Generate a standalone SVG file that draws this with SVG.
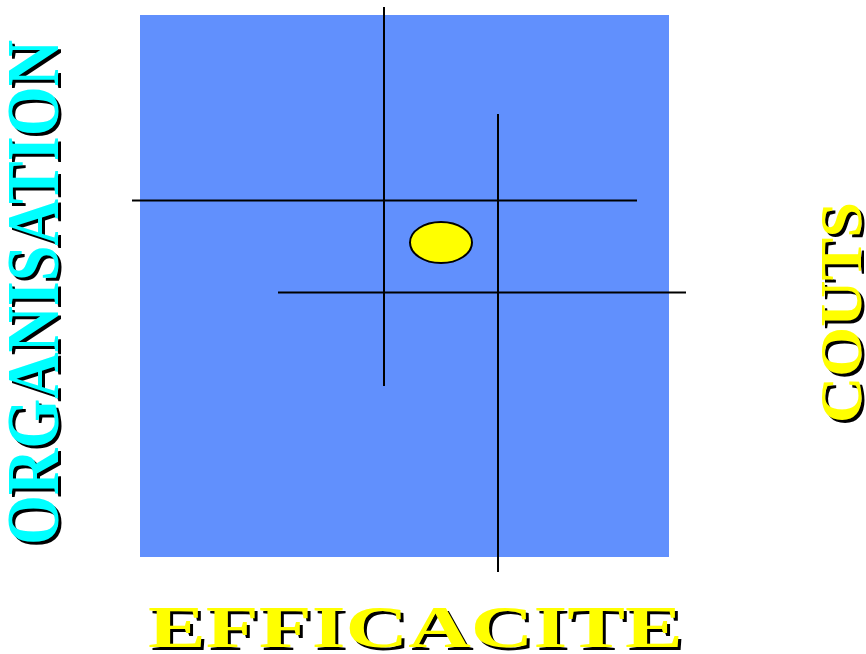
<svg xmlns="http://www.w3.org/2000/svg" width="866" height="654" viewBox="0 0 866 654">
<style>
.t{font-family:"Liberation Serif","Times New Roman",serif;font-weight:bold}
.sh{fill:#000}
.ln{stroke:#000;stroke-width:2;fill:none}
</style>
<rect width="866" height="654" fill="#fff"/>
<g id="quadrant">
<rect x="140" y="15" width="529" height="542" fill="#6190FD"/>
</g>
<g id="connectors">
<line class="ln" x1="384" y1="7" x2="384" y2="386"/>
<line class="ln" x1="498" y1="114" x2="498" y2="572"/>
<line class="ln" x1="132" y1="200.5" x2="637" y2="200.5"/>
<line class="ln" x1="278" y1="292.5" x2="686" y2="292.5"/>
</g>
<g id="point">
<ellipse cx="441" cy="242.5" rx="31" ry="20.5" fill="#FFFF00" stroke="#000" stroke-width="2"/>
</g>
<g id="organisation">
<text class="t sh" font-size="74" textLength="505" lengthAdjust="spacingAndGlyphs" transform="translate(61,548) rotate(-90)">ORGANISATION</text>
<text class="t" fill="#00FFFF" font-size="74" textLength="505" lengthAdjust="spacingAndGlyphs" transform="translate(58,545) rotate(-90)">ORGANISATION</text>
</g>
<g id="couts">
<text class="t sh" font-size="59" textLength="221" lengthAdjust="spacingAndGlyphs" transform="translate(864,426) rotate(-90)">COUTS</text>
<text class="t" fill="#FFFF00" font-size="59" textLength="221" lengthAdjust="spacingAndGlyphs" transform="translate(861,423) rotate(-90)">COUTS</text>
</g>
<g id="efficacite">
<text class="t sh" x="151" y="650" font-size="60" textLength="535" lengthAdjust="spacingAndGlyphs">EFFICACITE</text>
<text class="t" fill="#FFFF00" x="148" y="647" font-size="60" textLength="535" lengthAdjust="spacingAndGlyphs">EFFICACITE</text>
</g>
</svg>
